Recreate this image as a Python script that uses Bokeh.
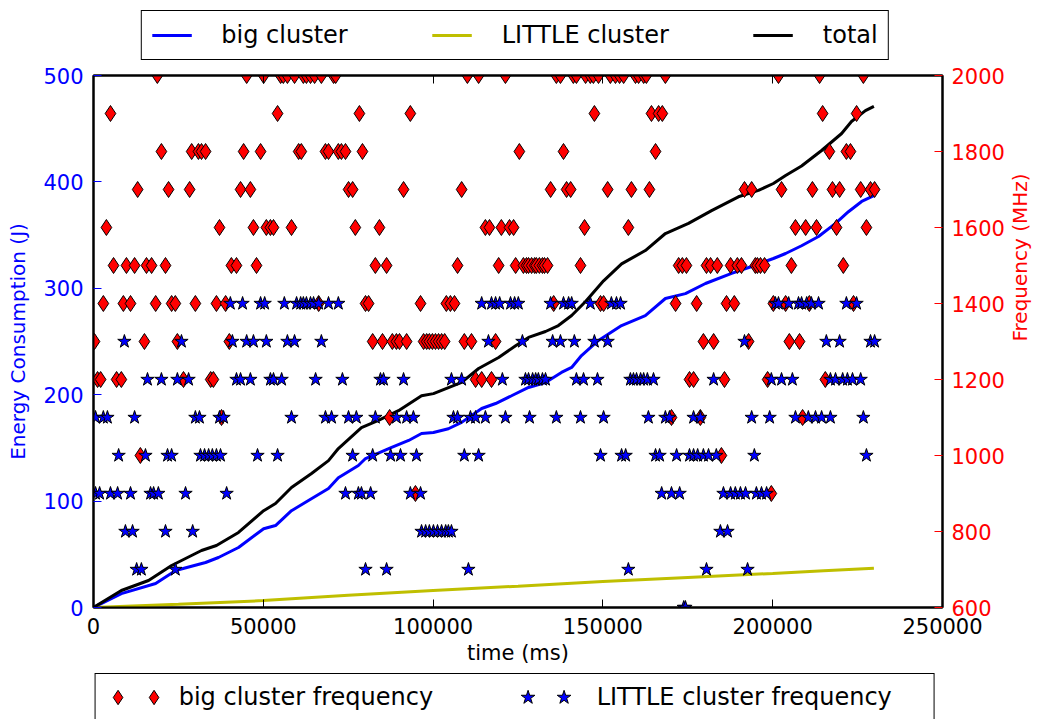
import math
from bokeh.plotting import figure
from bokeh.layouts import column
from bokeh.models import (Range1d, LinearAxis, FixedTicker, Legend, LegendItem,
                          BasicTickFormatter, CustomJSTickFormatter)
from bokeh.core.properties import value
from bokeh.embed import file_html
from bokeh.resources import INLINE

FONT = "DejaVu Sans"

# ---------------- data ----------------
x_ticks = [0, 50000, 100000, 150000, 200000, 250000]
energy_ticks = [0, 100, 200, 300, 400, 500]
freq_ticks = [600, 800, 1000, 1200, 1400, 1600, 1800, 2000]

total_t = [0, 8200, 16200, 23000, 31800, 36200, 42700, 50100, 53600, 58300, 64200, 69200,
           72100, 78900, 83900, 89800, 96600, 100100, 108400, 113400, 119300, 124300, 128100,
           133100, 136900, 140800, 144900, 150200, 155500, 162500, 168400, 175200, 182000,
           189900, 195800, 200200, 203800, 208500, 214400, 220300, 223200, 227300, 229800]
total_e = [0, 16, 25.4, 39.5, 53.6, 58.3, 70.5, 91, 97.7, 112.8, 126, 138, 149.4, 169, 175.8,
           185, 199, 201, 211.5, 224.6, 235, 246, 253.8, 259.4, 265, 274.4, 287.6, 307, 323,
           335.5, 351.5, 361, 373, 386, 392, 398.5, 406, 415, 429.5, 445.5, 456.8, 467, 471]

big_t = [0, 8200, 18300, 24200, 33000, 36800, 42700, 50100, 53600, 58300, 63300, 69200, 72100,
         78000, 80100, 87800, 92800, 96600, 100100, 104500, 108400, 114300, 118400, 123100,
         128100, 133100, 137800, 140800, 143700, 148700, 155500, 162500, 168400, 174300, 180200,
         187900, 193800, 200200, 203800, 208500, 213500, 218500, 222300, 226200, 229800]
big_e = [0, 13, 22.5, 34.8, 42.3, 47, 56.4, 74, 77, 91, 100.6, 111.8, 122, 133.5, 140, 150.4,
         157, 163.5, 164.5, 168, 174, 187, 191.7, 199, 206.8, 211.5, 220.9, 225.6, 236.8, 251,
         265, 274.4, 290.4, 295, 304.5, 314, 320.5, 328, 332.7, 340, 348.7, 361, 372, 381.6, 387]

little_t = [0, 25000, 50000, 75000, 100000, 125000, 150000, 175000, 200000, 215000, 229800]
little_e = [0, 3, 6.5, 11.5, 16, 20, 24.4, 28.3, 32, 34.5, 37]

# big cluster frequency samples (time in ms) per frequency level (MHz)
big_2000 = [18800, 45100, 50100, 55100, 55900, 57100, 59200, 61800, 62700, 63900, 65100, 67100,
            70700, 71300, 110100, 113400, 121300, 136300, 137500, 141300, 142200, 144900, 146300,
            147200, 148700, 152200, 153700, 154900, 156100, 159600, 160500, 162000, 162800,
            168400, 201700, 213800, 226700]
big_1900 = [5000, 54200, 78300, 93300, 147500, 164300, 166400, 167500, 214700, 224700]
big_1800 = [20000, 28900, 30900, 31800, 33000, 44200, 49200, 60400, 61200, 68300, 69200, 72100,
            73000, 74200, 79200, 125400, 138400, 165500, 216700, 221700, 222900]
big_1700 = [13000, 22100, 28300, 43300, 46200, 75100, 76300, 91300, 108400, 134600, 139300,
            140500, 151400, 158400, 163700, 191700, 193800, 202600, 211700, 217600, 219700,
            225900, 228800, 230000]
big_1600 = [3800, 37100, 47100, 50900, 52100, 53000, 58300, 77100, 84200, 115400, 116600, 120100,
            122500, 123700, 144600, 157500, 206700, 209700, 212900, 218800, 227600]
big_1500 = [5900, 9700, 12100, 15600, 17100, 21200, 40600, 42100, 48000, 83000, 86300, 107200,
            119300, 124300, 126600, 127500, 128100, 129000, 129900, 130400, 131300, 132200,
            132800, 133700, 143400, 172300, 173400, 174600, 180500, 181700, 183700, 187600,
            189600, 190800, 194900, 195500, 196400, 197600, 205500, 220800]
big_1400 = [2900, 8800, 10900, 18300, 23000, 24100, 30000, 36200, 38900, 66300, 80100, 81000,
            96300, 103900, 105100, 106300, 135500, 149300, 150200, 171400, 177600, 186400,
            188700, 200200, 203800, 210800, 223800]
big_1300 = [300, 15000, 24700, 40000, 82200, 85100, 88000, 89200, 90100, 92200, 97200, 98100,
            98900, 99800, 100700, 101600, 102500, 103400, 109200, 111300, 118400, 179600,
            182600, 192900, 204900, 207900]
big_1200 = [1200, 2100, 6800, 8200, 26500, 34500, 35300, 112500, 114300, 117200, 175500, 176700,
            185800, 198500, 215500]
big_1100 = [37700, 87200, 170200, 178700, 208800]
big_1000 = [13800, 184900]
big_900 = [94800, 199600]

# LITTLE cluster frequency samples
little_1400 = [40300, 43900, 49200, 50400, 56200, 59800, 61000, 61800, 62700, 63900, 64800, 66300,
               69200, 72100, 114300, 117200, 118400, 119600, 122800, 124000, 125100, 134600,
               138400, 139900, 140800, 146300, 152500, 154000, 155200, 200800, 201700, 204700,
               207600, 208500, 210000, 211400, 213500, 221700, 224700]
little_1300 = [9100, 25900, 40900, 45100, 47100, 50900, 57100, 59200, 67100, 116300, 126300,
               135200, 137500, 141600, 147500, 151400, 191700, 215800, 219700, 228800, 230000]
little_1200 = [15900, 20000, 24700, 28000, 42100, 43300, 46200, 52100, 53000, 55400, 65400, 73300,
               84500, 85400, 91300, 105400, 108400, 120400, 127200, 128100, 129300, 130200,
               131000, 132200, 133100, 142200, 144300, 148400, 158100, 159000, 159900, 161100,
               162000, 163100, 164900, 182600, 199600, 202600, 205800, 217000, 218500, 220600,
               222000, 223500, 225900]
little_1100 = [600, 2900, 4100, 12100, 30000, 31200, 37100, 38300, 58300, 68300, 70100, 75100,
               77400, 83000, 89200, 92200, 94200, 106000, 107200, 111000, 112500, 115400, 121300,
               128400, 136300, 143400, 150200, 163400, 168400, 169600, 176700, 178700, 193800,
               199100, 206700, 210500, 212600, 214400, 217000, 226700]
little_1000 = [7400, 15300, 21800, 23000, 31500, 32700, 33900, 35000, 36200, 37400, 48300, 54200,
               76300, 82200, 87500, 90400, 95100, 109200, 113400, 149300, 155500, 156700, 165500,
               166700, 171700, 175500, 176700, 177900, 179600, 181100, 183400, 194600, 227600]
little_900 = [600, 1800, 5000, 7100, 10900, 16800, 17700, 19100, 27100, 39200, 74200, 78000,
              78900, 81600, 93300, 96300, 167300, 170200, 172600, 185500, 187600, 189000, 190500,
              192000, 195200, 196700, 198200]
little_800 = [9400, 11500, 21200, 29200, 96600, 97800, 98900, 100100, 101300, 102500, 103700,
              104500, 105400, 184600, 186700]
little_700 = [12700, 14100, 24100, 80100, 86300, 110400, 157500, 180500, 192600]
little_600 = [173800, 174300]

big_levels = {2000: big_2000, 1900: big_1900, 1800: big_1800, 1700: big_1700, 1600: big_1600,
              1500: big_1500, 1400: big_1400, 1300: big_1300, 1200: big_1200, 1100: big_1100,
              1000: big_1000, 900: big_900}
little_levels = {1400: little_1400, 1300: little_1300, 1200: little_1200, 1100: little_1100,
                 1000: little_1000, 900: little_900, 800: little_800, 700: little_700,
                 600: little_600}

bf_t, bf_f = [], []
for f, ts in big_levels.items():
    bf_t += ts
    bf_f += [f] * len(ts)
lf_t, lf_f = [], []
for f, ts in little_levels.items():
    lf_t += ts
    lf_f += [f] * len(ts)

BLUE = "#0000ff"
RED = "#ff0000"
YELLOW = "#bfbf00"

# ---------------- main figure ----------------
p = figure(frame_width=849, frame_height=532,
           x_range=Range1d(0, 250000), y_range=Range1d(0, 500),
           output_backend="svg", toolbar_location=None,
           min_border_left=93, min_border_right=98, min_border_top=10, min_border_bottom=65)
p.extra_y_ranges = {"freq": Range1d(600, 2000)}
p.xgrid.visible = False
p.ygrid.visible = False
p.outline_line_color = "black"
p.outline_line_width = 2
p.background_fill_color = "white"
p.border_fill_color = "white"


def style_axis(ax, color, tick_color, tick_size, label_size):
    ax.axis_line_color = "black"
    ax.axis_line_width = 2
    ax.major_tick_in = 8
    ax.major_tick_out = 0
    ax.minor_tick_in = 0
    ax.minor_tick_out = 0
    ax.major_tick_line_color = tick_color
    ax.major_tick_line_width = 1
    ax.major_label_text_color = color
    ax.major_label_text_font = FONT
    ax.major_label_text_font_size = tick_size
    ax.axis_label_text_color = color
    ax.axis_label_text_font = FONT
    ax.axis_label_text_font_size = label_size
    ax.axis_label_text_font_style = "normal"


xax = p.xaxis[0]
xax.ticker = FixedTicker(ticks=x_ticks)
xax.formatter = BasicTickFormatter(use_scientific=False)
xax.axis_label = "time (ms)"
style_axis(xax, "black", "black", "21px", "21px")
xax.major_label_standoff = 10
xax.axis_label_standoff = 4

yax = p.yaxis[0]
yax.ticker = FixedTicker(ticks=energy_ticks)
yax.axis_label = "Energy Consumption (J)"
style_axis(yax, BLUE, BLUE, "21px", "20px")
yax.major_label_standoff = 10
yax.axis_label_standoff = 10

rax = LinearAxis(y_range_name="freq", ticker=FixedTicker(ticks=freq_ticks),
                 axis_label="Frequency (MHz)")
style_axis(rax, RED, RED, "21px", "20px")
rax.major_label_standoff = 9
rax.axis_label_standoff = 12
rax.axis_label_orientation = math.pi / 2
rax.axis_label_text_align = "center"
p.add_layout(rax, "right")

tax = LinearAxis(ticker=FixedTicker(ticks=x_ticks),
                 formatter=CustomJSTickFormatter(code="return ''"))
style_axis(tax, "black", "black", "0px", "0px")
tax.major_label_standoff = 0
p.add_layout(tax, "above")

r_big = p.line(big_t, big_e, line_color=BLUE, line_width=3)
r_little = p.line(little_t, little_e, line_color=YELLOW, line_width=3)
r_total = p.line(total_t, total_e, line_color="black", line_width=3)

p.scatter(bf_t, bf_f, marker="diamond", size=16, fill_color=RED,
          line_color="black", line_width=1, y_range_name="freq")
p.scatter(lf_t, lf_f, marker="star", size=14, fill_color=BLUE,
          line_color="black", line_width=1, y_range_name="freq")


# ---------------- legend strips ----------------
def strip(height):
    # frame centred on the main plot frame (x = 517.5)
    f = figure(width=1040, height=height, output_backend="svg", toolbar_location=None,
               x_axis_location=None, y_axis_location=None,
               x_range=Range1d(0, 1), y_range=Range1d(0, 1),
               min_border_left=0, min_border_right=5, min_border_top=0, min_border_bottom=0)
    f.outline_line_color = None
    f.xgrid.visible = False
    f.ygrid.visible = False
    f.border_fill_color = "white"
    f.background_fill_color = "white"
    return f


# legend-only renderers: their data lies outside the strip's visible range
off = [-5, -4]

top = strip(65)
lb = top.line(off, off, line_color=BLUE, line_width=3)
ll = top.line(off, off, line_color=YELLOW, line_width=3)
lt = top.line(off, off, line_color="black", line_width=3)
top_legend = Legend(items=[LegendItem(label=value("big cluster"), renderers=[lb]),
                           LegendItem(label=value("LITTLE cluster"), renderers=[ll]),
                           LegendItem(label=value("total"), renderers=[lt])],
                    orientation="horizontal", location="top_center",
                    glyph_width=40, glyph_height=24, label_standoff=30, spacing=84,
                    padding=10, margin=10, border_line_color="black", border_line_width=1.5,
                    border_line_alpha=1.0,
                    label_text_font=FONT, label_text_font_size="24px", label_text_color="black",
                    background_fill_color="white", background_fill_alpha=1.0)
top.add_layout(top_legend, "center")

bottom = strip(47)
db = bottom.scatter(off, off, marker="diamond", fill_color=RED, line_color="black", line_width=1)
sb = bottom.scatter(off, off, marker="star", fill_color=BLUE, line_color="black", line_width=1)
nb = "\u00a0"
bottom_legend = Legend(items=[LegendItem(label=value(nb * 0 + ""), renderers=[db]),
                              LegendItem(label=value(nb + "big cluster frequency" + nb * 10),
                                         renderers=[db]),
                              LegendItem(label=value(""), renderers=[sb]),
                              LegendItem(label=value(nb * 2 + "LITTLE cluster frequency" + nb * 5),
                                         renderers=[sb])],
                       orientation="horizontal", location="top_center",
                       glyph_width=36, glyph_height=38, label_standoff=0, label_width=0,
                       label_height=30, spacing=0, padding=4, margin=1,
                       border_line_color="black", border_line_width=1.5, border_line_alpha=1.0,
                       label_text_font=FONT, label_text_font_size="24px", label_text_color="black",
                       background_fill_color="white", background_fill_alpha=1.0)
bottom.add_layout(bottom_legend, "center")

layout = column(top, p, bottom, spacing=0)
open("out.html", "w").write(file_html(layout, INLINE))
